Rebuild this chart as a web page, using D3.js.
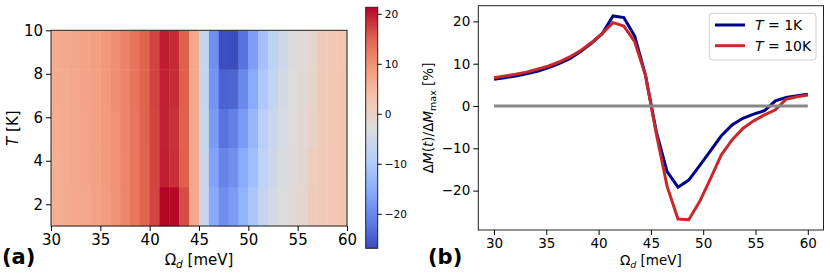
<!DOCTYPE html>
<html><head><meta charset="utf-8">
<script src="https://cdn.jsdelivr.net/npm/d3@7"></script>
<style>body{margin:0;background:#fff}svg{display:block;font-family:"DejaVu Sans",sans-serif}</style>
</head><body><svg id="c" width="830" height="277"></svg>
<script>
// ---- data ----
const omega = [30.00,31.03,32.07,33.10,34.14,35.17,36.21,37.24,38.28,39.31,40.34,41.38,42.41,43.45,44.48,
               45.52,46.55,47.59,48.62,49.66,50.69,51.72,52.76,53.79,54.83,55.86,56.90,57.93,58.97,60.00];
const temps = [1, 3.25, 5.5, 7.75, 10];
const dmT1  = [6.3,6.7,7.1,7.6,8.2,9.0,10.0,11.2,12.9,14.8,17.1,21.3,20.9,16.5,7.3,
               -6.1,-15.5,-19.2,-17.5,-14.1,-10.6,-7.1,-4.5,-2.9,-1.9,-1.1,1.2,2.0,2.4,2.8];
const dmT3  = [6.4,6.8,7.2,7.7,8.3,9.1,10.1,11.3,12.9,14.8,17.0,19.6,18.5,15.3,7.3,
               -6.3,-16.5,-20.5,-19.0,-15.5,-12.0,-8.0,-5.2,-3.4,-2.2,-1.3,0.9,1.9,2.4,2.8];
const dmT5  = [6.5,6.9,7.3,7.8,8.4,9.2,10.2,11.4,13.0,14.9,17.0,19.4,18.3,15.1,7.3,
               -6.4,-17.5,-22.5,-21.0,-17.5,-13.5,-9.0,-6.0,-4.0,-2.6,-1.5,-0.3,1.8,2.3,2.7];
const dmT7  = [6.6,7.0,7.4,7.9,8.5,9.3,10.3,11.5,13.1,15.0,17.1,19.5,18.6,15.2,7.3,
               -6.5,-18.5,-24.5,-24.0,-20.0,-15.5,-10.3,-7.0,-4.6,-3.0,-1.8,-0.6,1.7,2.3,2.7];
const dmT10 = [6.7,7.1,7.5,8.0,8.7,9.4,10.4,11.6,13.1,15.0,17.1,19.7,18.9,15.2,7.3,
               -6.6,-19.0,-26.7,-26.9,-22.6,-17.2,-11.6,-8.0,-5.3,-3.5,-2.1,-0.9,1.6,2.2,2.6];
const heatRows = [dmT1, dmT3, dmT5, dmT7, dmT10];
const xTicks = [30,35,40,45,50,55,60];
const tTicks = [2,4,6,8,10];
const cbTicks = [-20,-10,0,10,20];
const bTicks = [-20,-10,0,10,20];
const coolwarm = ["#3b4cc0","#6282ea","#8db0fe","#b8d0f9","#dddcdc","#f5c4ad","#f49a7b","#de604d","#b40426"];

const svg = d3.select("#c");
const FONT = "DejaVu Sans";
const minus = s => String(s).replace("-", "\u2212");

// ---- panel (a): heatmap ----
const xL = d3.scaleLinear().domain([30, 60]).range([51, 347]);
const yL = d3.scaleLinear().domain([1, 10]).range([226, 30.3]);
const colBand = d3.scaleBand().domain(d3.range(omega.length)).range([xL(30), xL(60)]);
const rowBand = d3.scaleBand().domain(temps).range([yL(1), yL(10)]);
const allVals = heatRows.flat();
const vmin = d3.min(allVals), vmax = d3.max(allVals);
const color = d3.scaleSequential(d3.piecewise(d3.interpolateRgb, coolwarm)).domain([vmin, vmax]);

const gA = svg.append("g");
heatRows.forEach((row, r) => {
  gA.selectAll(null).data(row).join("rect")
    .attr("x", (d, k) => colBand(k))
    .attr("y", rowBand(temps[r]))
    .attr("width", colBand.bandwidth() + 0.4)
    .attr("height", rowBand.bandwidth() + 0.4)
    .attr("fill", d => color(d));
});
gA.append("rect").attr("x", xL(30)).attr("y", yL(10)).attr("width", xL(60) - xL(30)).attr("height", yL(1) - yL(10))
  .attr("fill", "none").attr("stroke", "#222").attr("stroke-width", 1);

const axA = gA.append("g").attr("transform", `translate(0,${yL(1)})`)
  .call(d3.axisBottom(xL).tickValues(xTicks).tickSize(5).tickPadding(3));
const ayA = gA.append("g").attr("transform", `translate(${xL(30)},0)`)
  .call(d3.axisLeft(yL).tickValues(tTicks).tickSize(5).tickPadding(3));
[axA, ayA].forEach(a => {
  a.select(".domain").remove();
  a.selectAll("text").attr("font-family", FONT).attr("font-size", 15).attr("fill", "#000");
  a.selectAll("line").attr("stroke", "#000");
});

gA.append("text").attr("x", (xL(30) + xL(60)) / 2).attr("y", 265).attr("text-anchor", "middle")
  .attr("font-family", FONT).attr("font-size", 15)
  .call(t => { t.append("tspan").text("Ω");
               t.append("tspan").attr("font-style", "italic").attr("font-size", 10.5).attr("dy", 3).text("d");
               t.append("tspan").attr("dy", -3).text(" [meV]"); });
gA.append("text").attr("transform", `translate(18,${(yL(1) + yL(10)) / 2}) rotate(-90)`).attr("text-anchor", "middle")
  .attr("font-family", FONT).attr("font-size", 15)
  .call(t => { t.append("tspan").attr("font-style", "italic").text("T");
               t.append("tspan").text(" [K]"); });
gA.append("text").attr("x", 2).attr("y", 264).attr("font-family", FONT).attr("font-size", 21)
  .attr("font-weight", "bold").text("(a)");

// colorbar
const yC = d3.scaleLinear().domain([vmin, vmax]).range([248.3, 7.3]);
const cbX = 365.7, cbW = 12;
const defs = svg.append("defs");
const grad = defs.append("linearGradient").attr("id", "cbg").attr("x1", 0).attr("y1", 1).attr("x2", 0).attr("y2", 0);
d3.range(0, 1.0001, 0.02).forEach(f => grad.append("stop").attr("offset", f).attr("stop-color", color(vmin + f * (vmax - vmin))));
svg.append("rect").attr("x", cbX).attr("y", yC(vmax)).attr("width", cbW).attr("height", yC(vmin) - yC(vmax))
  .attr("fill", "url(#cbg)").attr("stroke", "#222").attr("stroke-width", 1);
const aC = svg.append("g").attr("transform", `translate(${cbX + cbW},0)`)
  .call(d3.axisRight(yC).tickValues(cbTicks).tickSize(4).tickPadding(3).tickFormat(d => minus(d)));
aC.select(".domain").remove();
aC.selectAll("text").attr("font-family", FONT).attr("font-size", 10.5).attr("fill", "#000");
aC.selectAll("line").attr("stroke", "#000");

// ---- panel (b): line chart ----
const series = [dmT1, dmT10];
const yAll = series.flat();
const xPad = (d3.max(omega) - d3.min(omega)) * 0.05;
const yPad = (d3.max(yAll) - d3.min(yAll)) * 0.05;
const xR = d3.scaleLinear().domain([d3.min(omega) - xPad, d3.max(omega) + xPad]).range([478.3, 823.5]);
const yR = d3.scaleLinear().domain([d3.min(yAll) - yPad, d3.max(yAll) + yPad]).range([230, 5.7]);
const gB = svg.append("g");
const line = d3.line().x((d, i) => xR(omega[i])).y(d => yR(d));
const lineColors = ["#00008b", "#c8282a"];
series.forEach((s, i) => gB.append("path").datum(s).attr("d", line).attr("fill", "none")
  .attr("stroke", lineColors[i]).attr("stroke-width", 3).attr("stroke-linejoin", "miter"));
gB.append("line").attr("x1", xR(d3.min(omega))).attr("x2", xR(d3.max(omega)))
  .attr("y1", yR(0)).attr("y2", yR(0)).attr("stroke", "#888").attr("stroke-width", 3);
gB.append("rect").attr("x", xR.range()[0]).attr("y", yR.range()[1]).attr("width", xR.range()[1] - xR.range()[0])
  .attr("height", yR.range()[0] - yR.range()[1]).attr("fill", "none").attr("stroke", "#222").attr("stroke-width", 1);
const axB = gB.append("g").attr("transform", `translate(0,${yR.range()[0]})`)
  .call(d3.axisBottom(xR).tickValues(xTicks).tickSize(5).tickPadding(3));
const ayB = gB.append("g").attr("transform", `translate(${xR.range()[0]},0)`)
  .call(d3.axisLeft(yR).tickValues(bTicks).tickSize(5).tickPadding(3).tickFormat(d => minus(d)));
[axB, ayB].forEach(a => {
  a.select(".domain").remove();
  a.selectAll("text").attr("font-family", FONT).attr("font-size", 13.5).attr("fill", "#000");
  a.selectAll("line").attr("stroke", "#000");
});
gB.append("text").attr("x", (xR.range()[0] + xR.range()[1]) / 2).attr("y", 265).attr("text-anchor", "middle")
  .attr("font-family", FONT).attr("font-size", 13.5)
  .call(t => { t.append("tspan").text("Ω");
               t.append("tspan").attr("font-style", "italic").attr("font-size", 9.5).attr("dy", 3).text("d");
               t.append("tspan").attr("dy", -3).text(" [meV]"); });
gB.append("text").attr("transform", `translate(433,${(yR.range()[0] + yR.range()[1]) / 2}) rotate(-90)`)
  .attr("text-anchor", "middle").attr("font-family", FONT).attr("font-size", 13.5)
  .call(t => { t.append("tspan").text("Δ");
               t.append("tspan").attr("font-style", "italic").text("M");
               t.append("tspan").text("(");
               t.append("tspan").attr("font-style", "italic").text("t");
               t.append("tspan").text(")/Δ");
               t.append("tspan").attr("font-style", "italic").text("M");
               t.append("tspan").attr("font-size", 9.5).attr("dy", 3).text("max");
               t.append("tspan").attr("dy", -3).text(" [%]"); });
gB.append("text").attr("x", 428).attr("y", 264).attr("font-family", FONT).attr("font-size", 21)
  .attr("font-weight", "bold").text("(b)");

// legend
const legendLabels = ["1K", "10K"];
const lg = gB.append("g");
lg.append("rect").attr("x", 709.3).attr("y", 13.3).attr("width", 106.7).attr("height", 46.7).attr("rx", 3)
  .attr("fill", "#fff").attr("fill-opacity", 0.8).attr("stroke", "#d0d0d0");
legendLabels.forEach((lab, i) => {
  const yy = 25 + i * 20.7;
  lg.append("line").attr("x1", 715).attr("x2", 745).attr("y1", yy).attr("y2", yy)
    .attr("stroke", lineColors[i]).attr("stroke-width", 3);
  lg.append("text").attr("x", 755).attr("y", yy + 5).attr("font-family", FONT).attr("font-size", 14)
    .call(t => { t.append("tspan").attr("font-style", "italic").text("T");
                 t.append("tspan").text(" = " + lab); });
});
</script></body></html>
